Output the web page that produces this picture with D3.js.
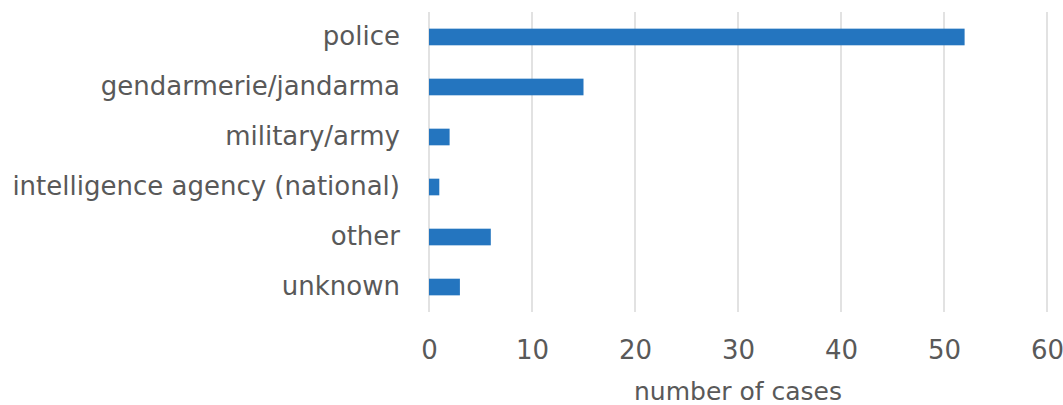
<!DOCTYPE html>
<html>
<head>
<meta charset="utf-8">
<script src="https://cdn.jsdelivr.net/npm/d3@7"></script>
<style>
  html, body { margin: 0; padding: 0; background: #fff; }
  svg text { font-family: "DejaVu Sans", sans-serif; fill: #595959; }
</style>
</head>
<body>
<svg id="chart" width="1063" height="405"></svg>
<script>
const categories = [
  "police",
  "gendarmerie/jandarma",
  "military/army",
  "intelligence agency (national)",
  "other",
  "unknown"
];
const cases = [52, 15, 2, 1, 6, 3];
const xTicks = [0, 10, 20, 30, 40, 50, 60];
const xTitle = "number of cases";

const margin = { top: 12, right: 16, bottom: 93, left: 429 };
const width = 1063 - margin.left - margin.right;
const height = 405 - margin.top - margin.bottom;

const svg = d3.select("#chart");
const g = svg.append("g").attr("transform", `translate(${margin.left},${margin.top})`);

const x = d3.scaleLinear().domain([0, 60]).range([0, width]);
const y = d3.scaleBand().domain(categories).range([0, height]).paddingInner(0.667).paddingOuter(0.333);

// gridlines
g.append("g")
  .selectAll("line")
  .data(xTicks)
  .join("line")
  .attr("x1", (d) => x(d))
  .attr("x2", (d) => x(d))
  .attr("y1", 0)
  .attr("y2", height)
  .attr("stroke", "#d9d9d9")
  .attr("stroke-width", 1.5);

// bars
g.selectAll(".bar")
  .data(categories.map((c, i) => ({ name: c, value: cases[i] })))
  .join("rect")
  .attr("class", "bar")
  .attr("x", 0)
  .attr("y", (d) => y(d.name))
  .attr("width", (d) => x(d.value))
  .attr("height", y.bandwidth())
  .attr("fill", "#2475bf");

// x axis
const xAxis = g.append("g")
  .attr("transform", `translate(0,${height})`)
  .call(d3.axisBottom(x).tickValues(xTicks).tickSize(0).tickPadding(29));
xAxis.select(".domain").remove();
xAxis.selectAll("text").style("font-size", "26px").attr("fill", "#595959");

// y axis
const yAxis = g.append("g")
  .call(d3.axisLeft(y).tickSize(0).tickPadding(29));
yAxis.select(".domain").remove();
yAxis.selectAll("text").style("font-size", "26px").attr("fill", "#595959");

// axis title
svg.append("text")
  .attr("x", margin.left + width / 2)
  .attr("y", 400)
  .attr("text-anchor", "middle")
  .style("font-size", "25px")
  .text(xTitle);
</script>
</body>
</html>
